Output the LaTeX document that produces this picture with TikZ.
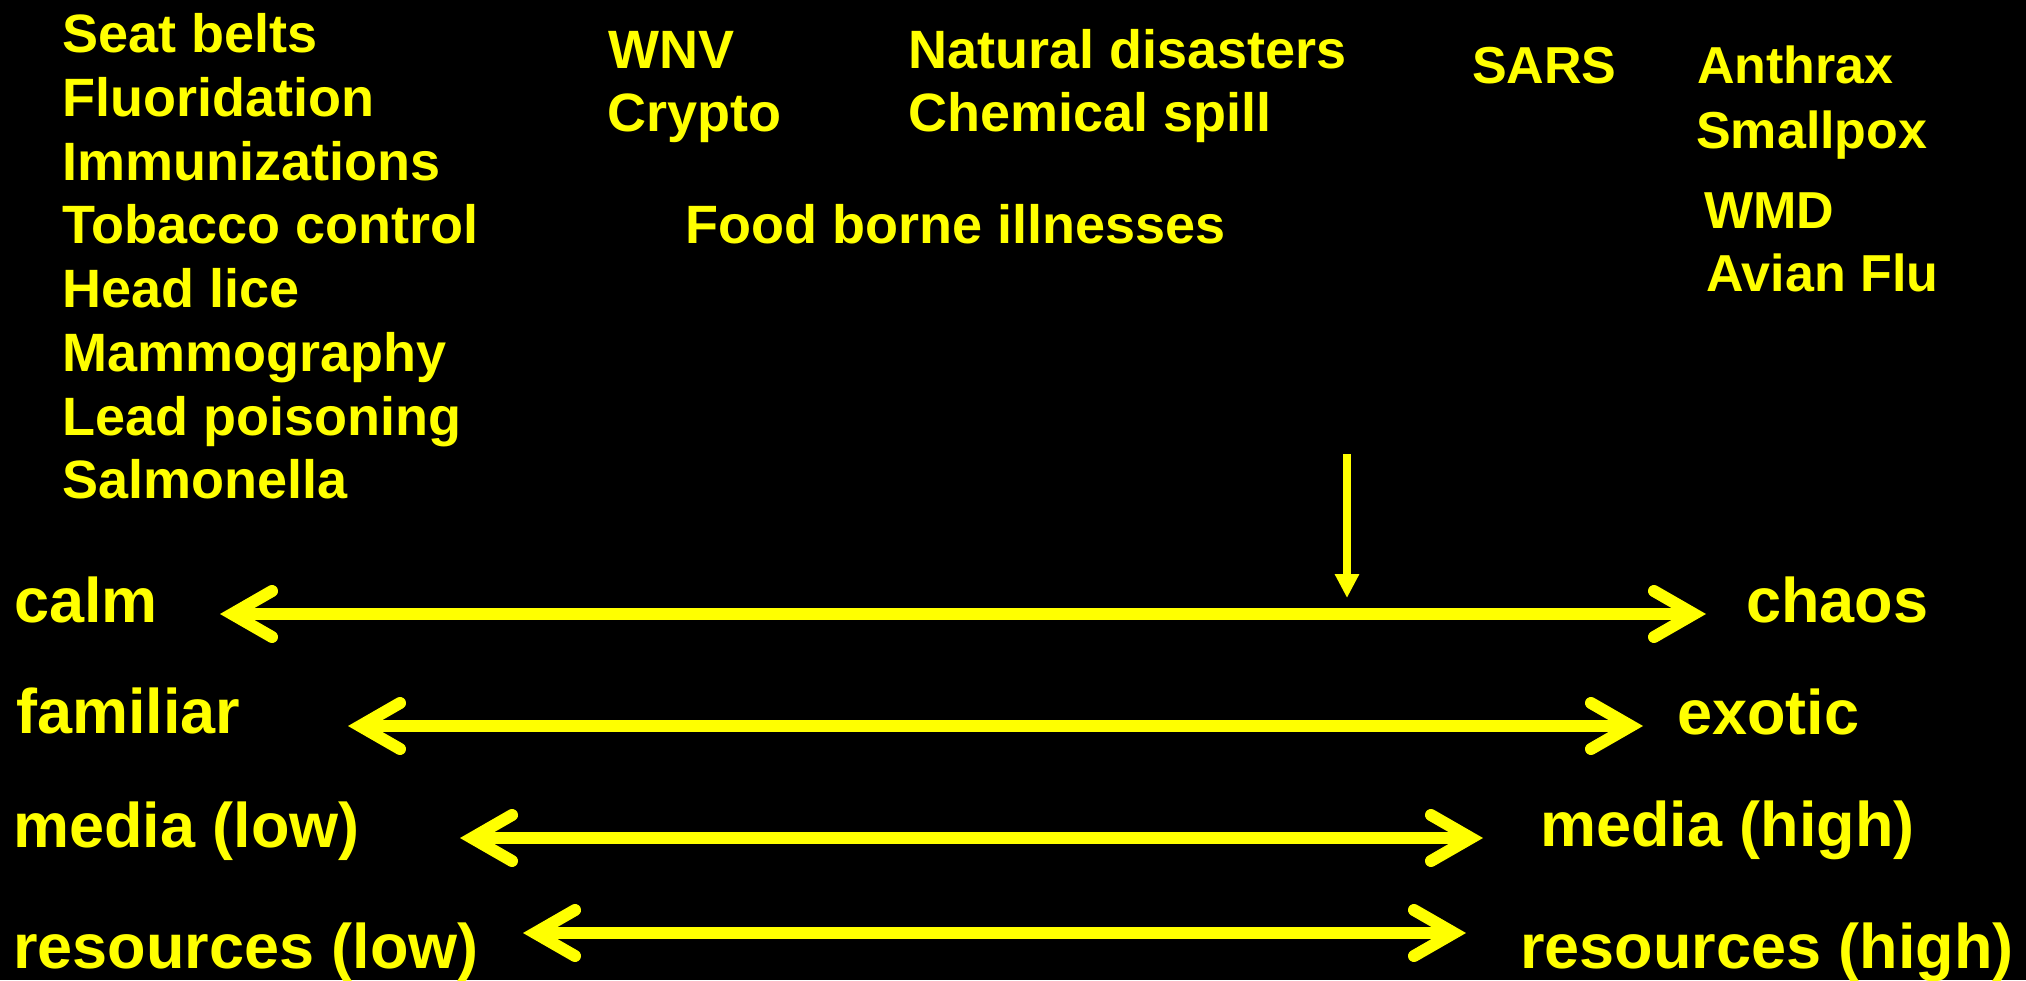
\documentclass[tikz,border=0pt]{standalone}
\usepackage{fontspec}
\setmainfont{Liberation Sans}
\usetikzlibrary{arrows.meta}
\definecolor{ylw}{RGB}{255,255,0}
\begin{document}
\begin{tikzpicture}[x=1pt,y=-1pt,
  lbl/.style={anchor=base west,inner sep=0pt,text=ylw,font=\fontsize{54}{64}\selectfont\bfseries},
  rlbl/.style={lbl,font=\fontsize{52}{62}\selectfont\bfseries},
  axlbl/.style={lbl,font=\fontsize{63}{75}\selectfont\bfseries},
  barb/.tip={Straight Barb[length=40pt,width=46pt,line width=12pt,line cap=round,line join=miter]},
  axisline/.style={draw=ylw,line width=12pt,barb-barb},
  pointer/.style={draw=ylw,line width=8pt,-{Triangle[length=24pt,width=23pt]}}
]
\fill[black] (0,0) rectangle (2026,980);
\useasboundingbox (0,0) rectangle (2026,980);

% left list
\node[lbl] (seat) at (62,52) {Seat belts};
\node[lbl] (fluor) at (62,116) {Fluoridation};
\node[lbl] (immun) at (62,180) {Immunizations};
\node[lbl] (tob) at (62,243) {Tobacco control};
\node[lbl] (lice) at (62,307) {Head lice};
\node[lbl] (mammo) at (62,371) {Mammography};
\node[lbl] (lead) at (62,435) {Lead poisoning};
\node[lbl] (salm) at (62,498) {Salmonella};

% middle
\node[lbl] (wnv) at (608,68) {WNV};
\node[lbl] (crypto) at (607,131) {Crypto};
\node[lbl] (natural) at (908,68) {Natural disasters};
\node[lbl] (chem) at (908,131) {Chemical spill};
\node[lbl] (food) at (685,243) {Food borne illnesses};

% right
\node[rlbl] (sars) at (1472,83) {SARS};
\node[rlbl] (anthrax) at (1697,83) {Anthrax};
\node[rlbl] (smallpox) at (1696,148) {Smallpox};
\node[rlbl] (wmd) at (1704,228) {WMD};
\node[rlbl] (avian) at (1706,291) {Avian Flu};

% axis labels
\node[axlbl] (calm) at (14,622) {calm};
\node[axlbl] (chaos) at (1746,622) {chaos};
\node[axlbl] (familiar) at (16,733) {familiar};
\node[axlbl] (exotic) at (1677,734) {exotic};
\node[axlbl] (medlow) at (13,847) {media (low)};
\node[axlbl] (medhigh) at (1540,846) {media (high)};
\node[axlbl] (reslow) at (13,968) {resources (low)};
\node[axlbl] (reshigh) at (1520,968) {resources (high)};

% axis end points
\coordinate (c1) at (220,614);
\coordinate (c2) at (1706,614);
\coordinate (f1) at (348,726);
\coordinate (f2) at (1643,726);
\coordinate (m1) at (460,838);
\coordinate (m2) at (1483,838);
\coordinate (r1) at (523,933);
\coordinate (r2) at (1466,933);
\coordinate (ptop) at (1347,454);
\coordinate (pbot) at (1347,598);

\draw[axisline] (c1) -- (c2);
\draw[axisline] (f1) -- (f2);
\draw[axisline] (m1) -- (m2);
\draw[axisline] (r1) -- (r2);
\draw[pointer] (ptop) -- (pbot);
\end{tikzpicture}
\end{document}
